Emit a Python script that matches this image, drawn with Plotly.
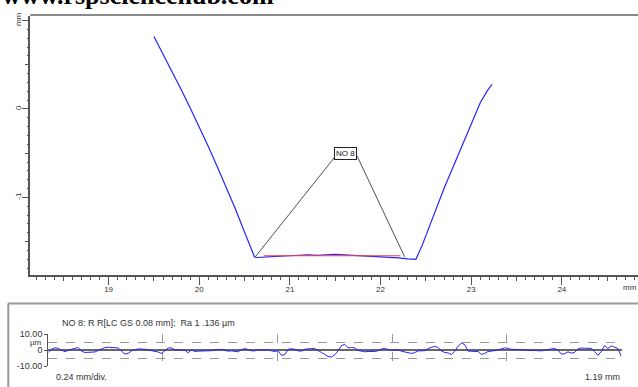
import numpy as np
import plotly.graph_objects as go

# ---------------- data ----------------
profile_x = [19.50, 19.60, 19.70, 19.80, 19.90, 20.00, 20.10, 20.20, 20.30, 20.40, 20.50, 20.60,
             20.61, 20.64, 20.70, 20.80, 20.90, 21.00, 21.10, 21.20, 21.30, 21.40, 21.50, 21.60,
             21.70, 21.80, 21.90, 22.00, 22.10, 22.20, 22.30, 22.39,
             22.46, 22.70, 22.96, 23.10, 23.18, 23.23]
profile_z = [0.82, 0.625, 0.425, 0.22, 0.01, -0.205, -0.425, -0.655, -0.89, -1.135, -1.395, -1.66,
             -1.675, -1.68, -1.675, -1.67, -1.665, -1.66, -1.655, -1.65, -1.655, -1.65, -1.645, -1.65,
             -1.655, -1.66, -1.665, -1.67, -1.675, -1.685, -1.695, -1.70,
             -1.54, -0.90, -0.27, 0.07, 0.21, 0.28]

mean_x = [20.71, 22.22]
mean_z = [-1.66, -1.66]

label_text = "NO 8"
label_x = 21.618
label_z = -0.505
leader_x = [20.619, 21.503, None, 21.742, 22.265]
leader_z = [-1.671, -0.533, None, -0.533, -1.671]

x_major = [19, 20, 21, 22, 23, 24]
x_major_text = ["19", "20", "21", "22", "23", "24"]
x_half = [18.5, 19.5, 20.5, 21.5, 22.5, 23.5, 24.5]
y_major = [-1, 0, 1]
y_major_text = ["-1", "0", "mm"]
y_half = [-1.5, -0.5, 0.5]

rough_um = [
    -1.4, 0.6, 1.5, 1.2, 0.0, -0.9, -0.1, 0.8, 1.2, 1.6, -0.7, -1.4, -1.3, -1.2, -1.1, -0.1,
    0.9, 1.6, 1.8, 1.8, 1.7, 1.4, -0.6, -2.4, -2.0, -0.4, 0.3, 0.8, 0.7, 0.6, 0.3, -0.3,
    -0.6, -1.1, -2.0, -0.2, 1.4, 1.4, 0.2, 0.4, -0.2, 0.0, -1.6, 0.2, -0.8, -0.6, -0.6, -0.6,
    -0.6, -0.3, 0.2, 0.5, 0.5, -0.1, -0.6, -0.4, -0.8, -1.0, 0.4, 1.0, 0.4, -0.4, -0.4, 0.3,
    0.2, 0.2, 0.2, -0.4, -0.8, -0.4, -3.2, -2.8, 0.6, 0.9, 0.6, -0.4, -0.6, 0.6, 0.9, 1.0,
    1.0, 0.0,
    -1.4, -2.6, -3.9, -4.3, -2.8, -0.4, 2.8, 3.6, 1.4, 1.7, 1.4, -0.2, -0.6, -1.0, -0.8, -0.8,
    -0.8, -0.3, 0.7, 1.1, 0.3, -0.2, 0.2, 0.2, -0.6, -1.1, -1.6, -2.0, -1.5, -0.4, -0.4, -0.3,
    1.0, 1.6, 2.4, 1.7, -0.5, -1.4, -1.7, -2.8, -0.6, 2.4, 4.4, 3.5, -0.5, -0.7, -0.8, -0.8,
    -2.6, -2.0, -0.8, -0.7, -0.3, 0.2, 0.8, 1.4, 1.2, 0.5, 0.5, 0.4, 0.1, 0.0, -0.1, -0.2,
    -0.2, -0.3, -0.4, 0.0, 0.5, 0.7, 1.1, 0.0, -2.4, -2.2, -1.0, -1.8, -1.4, 0.8, 1.3, 1.2,
    1.2, 1.1, -0.8, -3.2, -0.8, 2.9, 1.0, 2.6, 1.9, 1.0, -3.8]
rough_len_mm = 1.19
rough_div_mm = 0.238
rough_x = np.linspace(0, rough_len_mm, len(rough_um))

W, H = 638, 387
def px(v):
    return v / W
def py(v):
    return (H - v) / H

BLUE = "#2323ff"
AX = "#555555"
TXT = "#333333"
FONT = "Liberation Sans, Arial, sans-serif"

fig = go.Figure()

fig.add_trace(go.Scatter(x=profile_x, y=profile_z, mode="lines",
                         line=dict(color=BLUE, width=1.2), xaxis="x", yaxis="y",
                         showlegend=False, hoverinfo="skip"))
fig.add_trace(go.Scatter(x=mean_x, y=mean_z, mode="lines",
                         line=dict(color="#ff4040", width=1), xaxis="x", yaxis="y",
                         showlegend=False, hoverinfo="skip"))
fig.add_trace(go.Scatter(x=leader_x, y=leader_z, mode="lines",
                         line=dict(color="#222222", width=0.8), xaxis="x", yaxis="y",
                         showlegend=False, hoverinfo="skip"))
fig.add_trace(go.Scatter(x=[None], y=[None], xaxis="x3", yaxis="y", showlegend=False))
fig.add_trace(go.Scatter(x=[None], y=[None], xaxis="x", yaxis="y3", showlegend=False))

fig.add_trace(go.Scatter(x=rough_x, y=rough_um, mode="lines",
                         line=dict(color=BLUE, width=1.0), xaxis="x2", yaxis="y2",
                         showlegend=False, hoverinfo="skip"))

xr = [18.136, 24.84]
yr = [-1.876, 1.055]
main_xdom = [px(30.3), 1.0]
main_ydom = [py(277), py(11)]

fig.update_layout(
    width=W, height=H, margin=dict(l=0, r=0, t=0, b=0),
    paper_bgcolor="white", plot_bgcolor="white",
    font=dict(family=FONT, size=8, color=TXT),
    xaxis=dict(domain=main_xdom, range=xr, anchor="y",
               tickvals=x_major, ticktext=x_major_text, ticks="outside", ticklen=8,
               tickwidth=1, tickcolor=AX, showline=True, linecolor=AX, linewidth=1.5,
               showgrid=False, zeroline=False, tickfont=dict(size=8, color=TXT),
               ticklabelstandoff=-2,
               minor=dict(dtick=0.1, tick0=0, ticks="outside", ticklen=3, tickcolor=AX, showgrid=False)),
    xaxis3=dict(overlaying="x", anchor="y", range=xr, tickvals=x_half, ticks="outside",
                ticklen=5, tickcolor=AX, showticklabels=False, showgrid=False,
                zeroline=False, showline=False),
    yaxis=dict(domain=main_ydom, range=yr, anchor="x",
               tickvals=y_major, ticktext=y_major_text, ticks="outside", ticklen=7,
               tickwidth=1, tickcolor=AX, showline=True, linecolor=AX, linewidth=1.5,
               showgrid=False, zeroline=False, tickangle=-90, tickfont=dict(size=8, color=TXT),
               ticklabelstandoff=-3,
               minor=dict(dtick=0.1, tick0=0, ticks="outside", ticklen=2, tickcolor=AX, showgrid=False)),
    yaxis3=dict(overlaying="y", anchor="x", range=yr, tickvals=y_half, ticks="outside",
                ticklen=4, tickcolor=AX, showticklabels=False, showgrid=False,
                zeroline=False, showline=False),
    xaxis2=dict(domain=[px(48.3), px(621.5)], range=[0, rough_len_mm + 0.0005], anchor="y2",
                tick0=0, dtick=rough_div_mm, showticklabels=False, ticks="",
                showgrid=True, gridcolor="#9a9a9a", griddash="dash", gridwidth=1,
                zeroline=False, showline=False),
    yaxis2=dict(domain=[py(371), py(337.7)], range=[-10.05, 10.05], anchor="x2",
                tickvals=[-10, 0, 10], ticktext=["-10.00", "0", "10.00"],
                ticks="outside", ticklen=3, tickcolor=AX,
                showgrid=True, gridcolor="#9a9a9a", griddash="dash", gridwidth=1,
                zeroline=True, zerolinecolor="#666666", zerolinewidth=1.5,
                showline=True, linecolor=AX, linewidth=1.2,
                tickfont=dict(size=9, color=TXT),
                minor=dict(dtick=5, tick0=0, ticks="", showgrid=True, gridcolor="#9a9a9a",
                           griddash="dash", gridwidth=1)),
)

fig.add_shape(type="line", xref="paper", yref="paper", x0=px(30.3), x1=1.0, y0=py(10.3), y1=py(10.3),
              line=dict(color="#8a8a8a", width=2))
fig.add_shape(type="line", xref="paper", yref="paper", x0=px(8), x1=1.0, y0=py(306.3), y1=py(306.3),
              line=dict(color="#9a9a9a", width=2))
fig.add_shape(type="line", xref="paper", yref="paper", x0=px(8.3), x1=px(8.3), y0=py(306.3), y1=-0.05,
              line=dict(color="#9a9a9a", width=2))

fig.add_annotation(x=label_x, y=label_z, xref="x", yref="y", text=label_text, showarrow=False,
                   font=dict(size=8, color="#111111", family=FONT), bgcolor="white",
                   bordercolor="#222222", borderwidth=1, borderpad=1)
fig.add_annotation(x=24.75, xref="x", y=py(290), yref="paper", text="mm", showarrow=False,
                   font=dict(size=8, color=TXT), yanchor="middle")
fig.add_annotation(x=0, xref="paper", y=py(7), yref="paper", xanchor="left", yanchor="bottom",
                   text="<b>www.rspsciencehub.com</b>", showarrow=False,
                   font=dict(size=26, color="black", family="Liberation Serif, Times New Roman, serif"))
fig.add_annotation(x=px(60), xref="paper", y=py(326), yref="paper", xanchor="left", yanchor="middle",
                   text="NO 8: R R[LC GS 0.08 mm];  Ra 1 .136 µm", showarrow=False,
                   font=dict(size=9, color=TXT))
fig.add_annotation(x=px(44), xref="paper", y=py(346.5), yref="paper", xanchor="right", yanchor="middle",
                   text="µm", showarrow=False, font=dict(size=8, color=TXT))
fig.add_annotation(x=px(54), xref="paper", y=py(382), yref="paper", xanchor="left", yanchor="middle",
                   text="0.24 mm/div.", showarrow=False, font=dict(size=9, color=TXT))
fig.add_annotation(x=px(622), xref="paper", y=py(382), yref="paper", xanchor="right", yanchor="middle",
                   text="1.19 mm", showarrow=False, font=dict(size=9, color=TXT))

fig.write_html("out.html")
